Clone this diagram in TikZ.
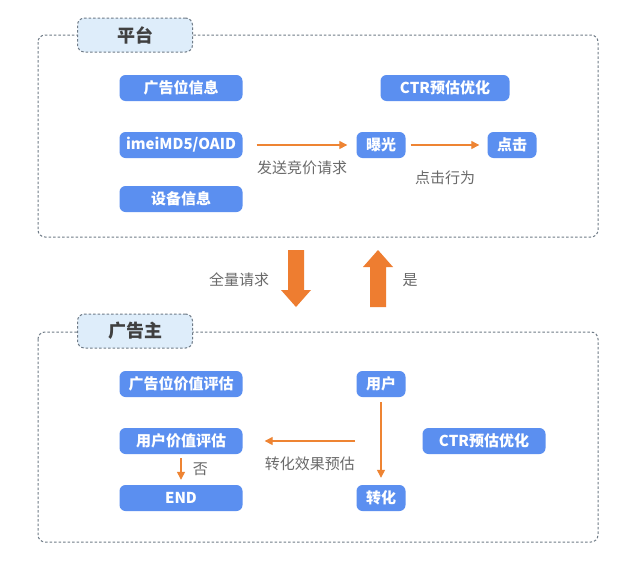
\documentclass[tikz,border=0pt]{standalone}
\usepackage{fontspec}
\setmainfont{Noto Sans CJK SC}
\usetikzlibrary{arrows.meta}
\definecolor{nodeblue}{HTML}{5B8FF0}
\definecolor{arrowor}{HTML}{EE8433}
\definecolor{bigor}{HTML}{EE7D30}
\definecolor{framegray}{HTML}{6F7B87}
\definecolor{tabfill}{HTML}{DEEDFA}
\definecolor{labgray}{HTML}{6A6A6A}
\tikzset{
  bluebox/.style={draw=none, fill=nodeblue, rounded corners=6pt, text=white, font=\fontsize{15}{17}\selectfont\bfseries, minimum height=26pt, inner sep=0pt},
  frame/.style={draw=framegray, dash pattern=on 2.5pt off 2pt, line width=1pt, rounded corners=7pt},
  tab/.style={draw=framegray, dash pattern=on 2.5pt off 2pt, line width=1pt, fill=tabfill, rounded corners=7pt, minimum width=115pt, minimum height=34pt, font=\fontsize{18}{20}\selectfont\bfseries, text=black!75},
  flow/.style={draw=arrowor, line width=1.3pt, -{Triangle[length=8pt,width=8pt]}},
  lab/.style={text=labgray, font=\fontsize{15}{17}\selectfont},
  bigarrow/.style={fill=bigor, draw=none}
}
\begin{document}
\begin{tikzpicture}[x=1pt,y=-1pt]
\useasboundingbox (0,0) rectangle (640,565);
\fill[white] (0,0) rectangle (640,565);
% frames
\draw[frame] (38,35) rectangle (598,237);
\draw[frame] (38,332) rectangle (598,542);
\node[tab] (tabA) at (135,35) {平台};
\node[tab] (tabB) at (135,331) {广告主};
% platform nodes
\node[bluebox, minimum width=123pt] (adpos) at (181,88) {广告位信息};
\node[bluebox, minimum width=123pt] (imei) at (181,145) {imeiMD5/OAID};
\node[bluebox, minimum width=123pt] (dev) at (181,199) {设备信息};
\node[bluebox, minimum width=129pt] (ctrA) at (445,88) {CTR预估优化};
\node[bluebox, minimum width=49pt] (expo) at (381,145) {曝光};
\node[bluebox, minimum width=49pt] (click) at (512,145) {点击};
\draw[flow] ([xshift=14pt]imei.east) -- ([xshift=-9pt]expo.west) node[midway, below=12pt, lab] {发送竞价请求};
\draw[flow] ([xshift=5pt]expo.east) -- ([xshift=-8pt]click.west) node[midway, below=22pt, lab] {点击行为};
% big arrows
\fill[bigarrow] (288,250) -- (304,250) -- (304,290) -- (311,290) -- (296,307) -- (281,290) -- (288,290) -- cycle;
\fill[bigarrow] (370,307) -- (386,307) -- (386,267) -- (393,267) -- (378,250) -- (363,267) -- (370,267) -- cycle;
\node[lab] (full) at (239,280) {全量请求};
\node[lab] (yes) at (410,280) {是};
% advertiser nodes
\node[bluebox, minimum width=123pt] (adval) at (181,384) {广告位价值评估};
\node[bluebox, minimum width=123pt] (userval) at (181,441) {用户价值评估};
\node[bluebox, minimum width=123pt] (endn) at (181,498) {END};
\node[bluebox, minimum width=49pt] (user) at (381,384) {用户};
\node[bluebox, minimum width=49pt] (conv) at (381,498) {转化};
\node[bluebox, minimum width=123pt] (ctrB) at (484,441) {CTR预估优化};
\draw[flow] ([yshift=-5pt]user.south) -- ([yshift=7pt]conv.north);
\coordinate (cstart) at (355,441);
\draw[flow] (cstart) -- ([xshift=22pt]userval.east) node[midway, below=12pt, lab] {转化效果预估};
\draw[flow] ([yshift=-4pt]userval.south) -- ([yshift=5pt]endn.north) node[midway, right=8pt, lab] {否};
\end{tikzpicture}
\end{document}
